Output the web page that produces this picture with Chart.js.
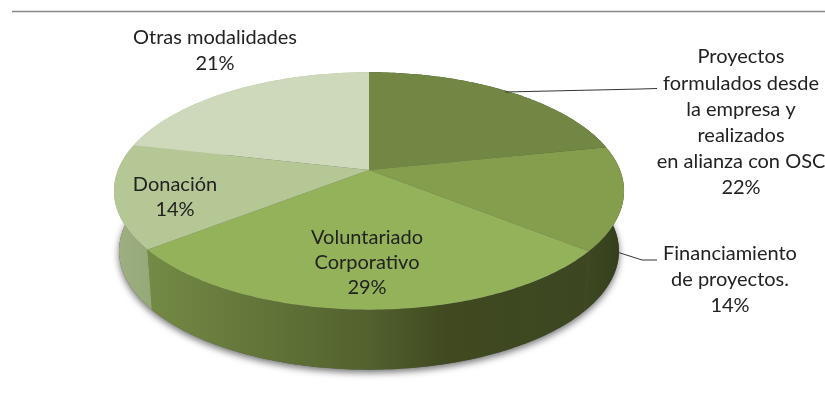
<!DOCTYPE html>
<html>
<head>
<meta charset="utf-8">
<title>Modalidades</title>
<script src="https://cdn.jsdelivr.net/npm/chart.js@4/dist/chart.umd.min.js"></script>
<style>
  html, body { margin: 0; padding: 0; background: #fff; }
  canvas { display: block; filter: blur(0.3px); }
</style>
</head>
<body>
<canvas id="pie3d" width="825" height="406"></canvas>
<script>
// Chart values (the labels show them rounded)
const categories = ['Proyectos formulados desde la empresa y realizados en alianza con OSC', 'Financiamiento de proyectos.', 'Voluntariado Corporativo', 'Donación', 'Otras modalidades'];
const values = [21.7, 14.1, 28.6, 14.2, 21.4];

// Slice colours
const topColors = ['#718743', '#849e4e', '#93b25a', '#b4c794', '#ced9bb'];
const wallStops = [
    ['#3a4520', '#3a4520'],
    ['#3e4922', '#333d1b'],
    ['#748a45', '#40491f'],
    ['#9fb083', '#95a876'],
    ['#b0bf98', '#b0bf98']
];

// Label placement, one text block per slice
const labelLines = [
    ['Proyectos', 'formulados desde', 'la empresa y', 'realizados', 'en alianza con OSC'],
    ['Financiamiento', 'de proyectos.'],
    ['Voluntariado', 'Corporativo'],
    ['Donación'],
    ['Otras modalidades']
];
const labelBoxes = [
    { x: 741, y: 57, gap: 26.2 },
    { x: 730, y: 254, gap: 26 },
    { x: 367, y: 238, gap: 25 },
    { x: 175, y: 185, gap: 24.5 },
    { x: 215, y: 38, gap: 26 }
];

// Flattening of the disc: perspective tilt, width factor, wall height
const TILT = -0.1765;
const STRETCH_X = 2.183;
const WALL = 60;
const WALL_SHRINK = 0.98;

function project(arc, angle) {
    const u = Math.cos(angle) * arc.outerRadius;
    const v = Math.sin(angle) * arc.outerRadius;
    const w = 1 + TILT * Math.sin(angle);
    return { x: arc.x + STRETCH_X * u / w, y: arc.y + v / w };
}

function lowered(arc, p) {
    return { x: arc.x + (p.x - arc.x) * WALL_SHRINK, y: p.y + WALL };
}

function arcPoints(arc) {
    const pts = [];
    const n = Math.max(8, Math.ceil((arc.endAngle - arc.startAngle) * 60));
    for (let i = 0; i <= n; i++) {
        pts.push(project(arc, arc.startAngle + (arc.endAngle - arc.startAngle) * i / n));
    }
    return pts;
}

function tracePath(ctx, pts) {
    ctx.beginPath();
    pts.forEach((p, i) => i ? ctx.lineTo(p.x, p.y) : ctx.moveTo(p.x, p.y));
    ctx.closePath();
}

const pie3d = {
    id: 'pie3d',
    // draws the arcs the pie controller laid out, so the library's own draw is skipped
    beforeDatasetsDraw(chart) {
        const ctx = chart.ctx;
        const arcs = chart.getDatasetMeta(0).data;
        ctx.save();

        // soft shadow under the whole disc
        let rim = [];
        arcs.forEach(a => { rim = rim.concat(arcPoints(a).map(p => lowered(a, p))); });
        ctx.save();
        ctx.shadowColor = 'rgba(0,0,0,0.55)';
        ctx.shadowBlur = 7;
        ctx.shadowOffsetY = 3;
        ctx.fillStyle = '#555';
        tracePath(ctx, rim);
        ctx.fill();
        ctx.restore();

        // walls
        arcs.forEach((a, i) => {
            const top = arcPoints(a);
            const low = top.map(p => lowered(a, p)).reverse();
            const xs = top.concat(low).map(p => p.x);
            const g = ctx.createLinearGradient(Math.min(...xs), 0, Math.max(...xs), 0);
            if (i === 2) {
                g.addColorStop(0, wallStops[i][0]);
                g.addColorStop(0.5, '#52612e');
                g.addColorStop(0.68, wallStops[i][1]);
                g.addColorStop(1, '#3c4722');
            } else {
                g.addColorStop(0, wallStops[i][0]);
                g.addColorStop(1, wallStops[i][1]);
            }
            ctx.fillStyle = g;
            tracePath(ctx, top.concat(low));
            ctx.fill();
        });

        // top faces
        arcs.forEach((a, i) => {
            ctx.fillStyle = topColors[i];
            tracePath(ctx, [{ x: a.x, y: a.y }].concat(arcPoints(a)));
            ctx.fill();
        });
        ctx.restore();
        return false;
    },
    afterDraw(chart) {
        const ctx = chart.ctx;
        ctx.save();

        // rule along the top
        ctx.strokeStyle = '#8a8a8a';
        ctx.lineWidth = 1.5;
        ctx.beginPath();
        ctx.moveTo(12, 11.5);
        ctx.lineTo(825, 11.5);
        ctx.stroke();

        // leader lines
        ctx.strokeStyle = '#333';
        ctx.lineWidth = 1;
        ctx.beginPath();
        ctx.moveTo(505, 92);
        ctx.lineTo(640, 89);
        ctx.lineTo(657, 88.5);
        ctx.moveTo(617, 252);
        ctx.lineTo(642, 260);
        ctx.lineTo(657, 260);
        ctx.stroke();

        // labels, last line is the rounded percent from the data
        ctx.fillStyle = '#222';
        ctx.font = '20px Lato';
        ctx.textAlign = 'center';
        ctx.textBaseline = 'middle';
        labelBoxes.forEach((box, i) => {
            labelLines[i].concat(Math.round(values[i]) + '%').forEach((line, j) => {
                ctx.fillText(line, box.x, box.y + j * box.gap);
            });
        });
        ctx.restore();
    }
};

new Chart(document.getElementById('pie3d'), {
    type: 'pie',
    data: {
        labels: categories,
        datasets: [{ data: values, backgroundColor: topColors, borderWidth: 0 }]
    },
    options: {
        responsive: false,
        animation: false,
        layout: { padding: { left: 254, right: 341, top: 55, bottom: 121 } },
        plugins: { legend: { display: false }, tooltip: { enabled: false } }
    },
    plugins: [pie3d]
});
</script>
</body>
</html>
